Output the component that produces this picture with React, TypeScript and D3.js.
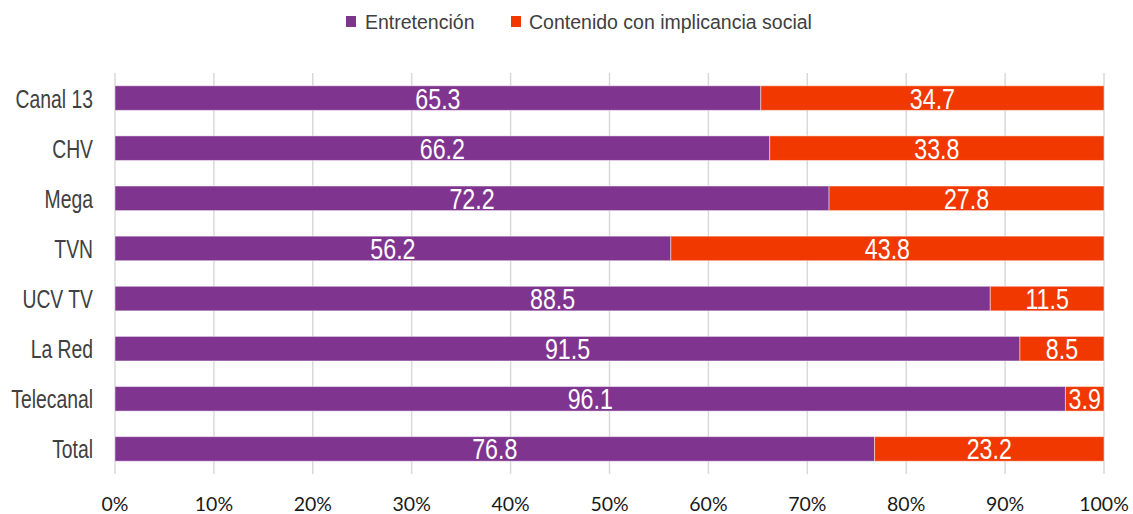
import React from "react";
import * as d3 from "d3";

const categories = ["Canal 13", "CHV", "Mega", "TVN", "UCV TV", "La Red", "Telecanal", "Total"];
const entretencion = [65.3, 66.2, 72.2, 56.2, 88.5, 91.5, 96.1, 76.8];
const social = [34.7, 33.8, 27.8, 43.8, 11.5, 8.5, 3.9, 23.2];
const seriesNames = ["Entretención", "Contenido con implicancia social"];
const seriesColors = ["#7F3590", "#F03800"];
const ticks = [0, 10, 20, 30, 40, 50, 60, 70, 80, 90, 100];

const W = 1133;
const H = 514;
const plotLeft = 115;
const plotRight = 1104;
const plotTop = 73;
const plotBottom = 474;

export default function App() {
  const x = d3.scaleLinear().domain([0, 100]).range([plotLeft, plotRight]);
  const y = d3.scaleBand<string>().domain(categories).range([plotTop, plotBottom]).paddingInner(0.51).paddingOuter(0.255);
  const bh = y.bandwidth();
  const rows = categories.map((c, i) => ({ c, vals: [entretencion[i], social[i]] }));
  const sans = "'Liberation Sans', Arial, sans-serif";

  return (
    <svg width={W} height={H} style={{ position: "absolute", left: 0, top: 0, background: "#fff" }}>
      {/* legend */}
      <g>
        <rect x={346} y={16} width={10} height={11} fill={seriesColors[0]} />
        <text x={365} y={29} fontFamily={sans} fontSize={19.5} fill="#404040">
          {seriesNames[0]}
        </text>
        <rect x={511} y={16} width={10} height={11} fill={seriesColors[1]} />
        <text x={529} y={29} fontFamily={sans} fontSize={19.5} fill="#404040">
          {seriesNames[1]}
        </text>
      </g>
      {/* gridlines */}
      {ticks.map((t) => (
        <line key={t} x1={x(t)} x2={x(t)} y1={plotTop} y2={plotBottom} stroke="#d9d9d9" strokeWidth={1.5} />
      ))}
      {/* bars */}
      {rows.map((r) => {
        const yy = y(r.c)!;
        let acc = 0;
        return (
          <g key={r.c}>
            {r.vals.map((v, j) => {
              const x0 = x(acc);
              acc += v;
              const x1 = x(acc);
              return (
                <g key={j}>
                  <rect x={x0} y={yy} width={x1 - x0} height={bh} fill={seriesColors[j]} stroke="#ffffff" strokeOpacity={0.45} strokeWidth={1} />
                  <text
                    transform={`translate(${(x0 + x1) / 2},${yy + bh / 2 + 10.5}) scale(0.8,1)`}
                    textAnchor="middle"
                    fontFamily={sans}
                    fontSize={29}
                    fill="#ffffff"
                  >
                    {v.toFixed(1)}
                  </text>
                </g>
              );
            })}
            <text
              transform={`translate(93,${yy + bh / 2 + 9.5}) scale(0.73,1)`}
              textAnchor="end"
              fontFamily={sans}
              fontSize={26.5}
              fill="#404040"
            >
              {r.c}
            </text>
          </g>
        );
      })}
      {/* x tick labels */}
      {ticks.map((t) => (
        <text key={t} x={x(t)} y={511} textAnchor="middle" fontFamily="Lato, 'Open Sans', sans-serif" fontSize={19.5} fill="#1a1a1a">
          {`${t}%`}
        </text>
      ))}
    </svg>
  );
}
